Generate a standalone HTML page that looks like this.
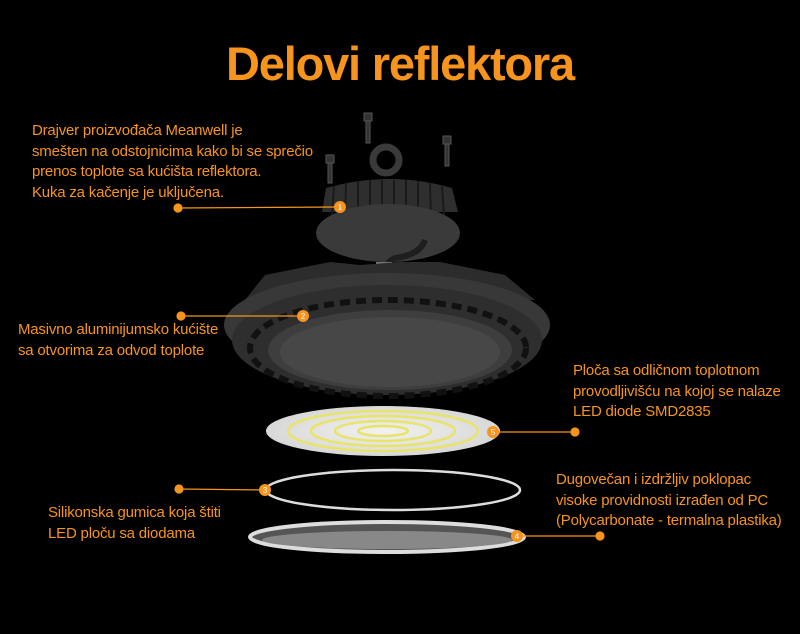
<!DOCTYPE html>
<html><head><style>
html,body{margin:0;padding:0;background:#000;}
body{width:800px;height:634px;overflow:hidden;position:relative;font-family:"Liberation Sans",sans-serif;}
.t{position:absolute;color:#f7941d;font-size:15px;line-height:20.5px;letter-spacing:-0.2px;}
h1{position:absolute;margin:0;left:0;width:800px;top:36px;text-align:center;color:#f7941d;font-size:47px;font-weight:bold;letter-spacing:-1.2px;}
</style></head><body>
<svg width="800" height="634" style="position:absolute;left:0;top:0">
<defs>
<radialGradient id="led" cx="50%" cy="50%" r="50%"><stop offset="0" stop-color="#f2f2f0"/><stop offset="1" stop-color="#d8d8d8"/></radialGradient>
</defs>
<g fill="#333" stroke="#555" stroke-width="1">
<rect x="364" y="113" width="8" height="8"/><rect x="366" y="121" width="4" height="22"/>
<rect x="443" y="136" width="8" height="8"/><rect x="445" y="144" width="4" height="22"/>
<rect x="326" y="155" width="8" height="8"/><rect x="328" y="163" width="4" height="20"/>
</g>
<circle cx="386" cy="160" r="13" fill="none" stroke="#3a3a3a" stroke-width="7"/>
<path d="M322 212 L326 188 Q390 170 452 188 L458 212 Z" fill="#2e2e2e"/>
<g stroke="#1a1a1a" stroke-width="2">
<line x1="334" y1="186" x2="332" y2="215"/><line x1="346" y1="183" x2="345" y2="218"/><line x1="358" y1="181" x2="358" y2="220"/><line x1="370" y1="180" x2="370" y2="221"/><line x1="382" y1="180" x2="382" y2="222"/><line x1="394" y1="180" x2="394" y2="222"/><line x1="406" y1="180" x2="406" y2="221"/><line x1="418" y1="181" x2="418" y2="220"/><line x1="430" y1="183" x2="431" y2="218"/><line x1="442" y1="186" x2="444" y2="215"/>
</g>
<ellipse cx="388" cy="233" rx="72" ry="29" fill="#3a3a3a"/>
<path d="M425 240 Q420 255 395 258 Q385 262 385 275" stroke="#1e1e1e" stroke-width="6" fill="none"/>
<rect x="376" y="262" width="16" height="22" fill="#777"/>
<path d="M245 300 L265 275 L300 268 L330 262 L360 265 L400 262 L440 262 L470 268 L505 275 L535 300 Z" fill="#2c2c2c"/>
<ellipse cx="387" cy="325" rx="163" ry="52" fill="#383838"/>
<ellipse cx="387" cy="340" rx="155" ry="55" fill="#2e2e2e"/>
<ellipse cx="388" cy="348" rx="138" ry="48" fill="none" stroke="#111" stroke-width="6" stroke-dasharray="10 6"/>
<ellipse cx="390" cy="350" rx="122" ry="40" fill="#3e3e3e"/>
<ellipse cx="390" cy="352" rx="110" ry="35" fill="#474747"/>
<ellipse cx="383" cy="431" rx="117" ry="25" fill="url(#led)"/>
<g fill="none" stroke="#e8e46a" stroke-width="2.5">
<ellipse cx="383" cy="431" rx="95" ry="20"/><ellipse cx="383" cy="431" rx="72" ry="15"/><ellipse cx="383" cy="431" rx="48" ry="10"/><ellipse cx="383" cy="431" rx="25" ry="5"/>
</g>
<ellipse cx="393" cy="490" rx="127" ry="20" fill="none" stroke="#ddd" stroke-width="2.5"/>
<ellipse cx="387" cy="537" rx="137" ry="15" fill="#555" stroke="#ddd" stroke-width="4"/>
<ellipse cx="387" cy="540" rx="125" ry="9" fill="#888"/>
<g stroke="#f7941d" stroke-width="1.2" fill="#f7941d">
<line x1="178" y1="208" x2="339" y2="207"/><circle cx="178" cy="208" r="4"/>
<line x1="181" y1="316" x2="303" y2="316"/><circle cx="181" cy="316" r="4"/>
<line x1="575" y1="432" x2="493" y2="432"/><circle cx="575" cy="432" r="4"/>
<line x1="179" y1="489" x2="265" y2="490"/><circle cx="179" cy="489" r="4"/>
<line x1="600" y1="536" x2="517" y2="536"/><circle cx="600" cy="536" r="4"/>
</g>
<g fill="#f7941d" stroke="none">
<circle cx="340" cy="207" r="6"/><circle cx="303" cy="316" r="6"/><circle cx="493" cy="432" r="6"/><circle cx="265" cy="490" r="6"/><circle cx="517" cy="536" r="6"/>
</g>
<g fill="#fff" font-family="Liberation Sans" font-size="8" text-anchor="middle">
<text x="340" y="210">1</text><text x="303" y="319">2</text><text x="493" y="435">5</text><text x="265" y="493">3</text><text x="517" y="539">4</text>
</g>
</svg>
<h1>Delovi reflektora</h1>
<div class="t" style="left:32px;top:121px">Drajver proizvođača Meanwell je<br>smešten na odstojnicima kako bi se sprečio<br>prenos toplote sa kućišta reflektora.<br>Kuka za kačenje je uključena.</div>
<div class="t" style="left:18px;top:320px">Masivno aluminijumsko kućište<br>sa otvorima za odvod toplote</div>
<div class="t" style="left:573px;top:361px">Ploča sa odličnom toplotnom<br>provodljivišću na kojoj se nalaze<br>LED diode SMD2835</div>
<div class="t" style="left:556px;top:470px">Dugovečan i izdržljiv poklopac<br>visoke providnosti izrađen od PC<br>(Polycarbonate - termalna plastika)</div>
<div class="t" style="left:48px;top:503px">Silikonska gumica koja štiti<br>LED ploču sa diodama</div>
</body></html>
